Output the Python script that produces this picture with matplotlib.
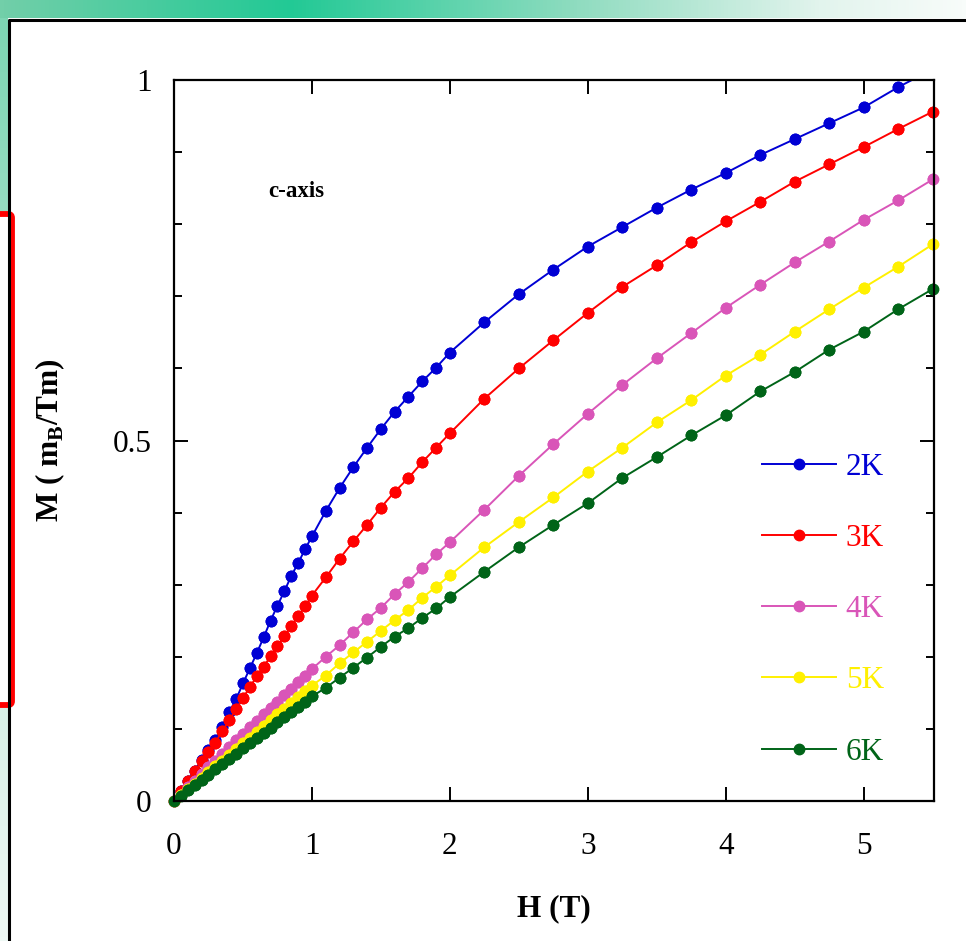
import matplotlib
matplotlib.use("Agg")
import matplotlib.pyplot as plt
import numpy as np
from matplotlib.colors import LinearSegmentedColormap
from matplotlib.patches import FancyBboxPatch


# magnetic field (T): 0.05 steps to 1 T, 0.1 steps to 2 T, 0.25 steps to 5.5 T
field = [
    0.0, 0.05, 0.1, 0.15, 0.2, 0.25, 0.3, 0.35, 0.4, 0.45, 0.5,
    0.55, 0.6, 0.65, 0.7, 0.75, 0.8, 0.85, 0.9, 0.95, 1.0,
    1.1, 1.2, 1.3, 1.4, 1.5, 1.6, 1.7, 1.8, 1.9, 2.0,
    2.25, 2.5, 2.75, 3.0, 3.25, 3.5, 3.75, 4.0, 4.25, 4.5, 4.75, 5.0, 5.25, 5.5,
]

m_2k = [
    0.0, 0.014, 0.028, 0.042, 0.057, 0.071, 0.085, 0.103, 0.123, 0.141, 0.163,
    0.184, 0.205, 0.227, 0.250, 0.271, 0.291, 0.312, 0.330, 0.349, 0.367,
    0.402, 0.434, 0.463, 0.490, 0.516, 0.540, 0.561, 0.582, 0.601, 0.622,
    0.664, 0.703, 0.737, 0.769, 0.796, 0.823, 0.848, 0.871, 0.896, 0.918, 0.940, 0.962, 0.990, 1.015,
]
m_3k = [
    0.0, 0.014, 0.028, 0.041, 0.055, 0.068, 0.081, 0.097, 0.112, 0.127, 0.143,
    0.158, 0.173, 0.186, 0.201, 0.215, 0.229, 0.243, 0.257, 0.270, 0.285,
    0.310, 0.336, 0.360, 0.383, 0.407, 0.429, 0.448, 0.470, 0.490, 0.510,
    0.558, 0.600, 0.639, 0.677, 0.713, 0.743, 0.775, 0.804, 0.831, 0.859, 0.883, 0.907, 0.932, 0.956,
]
m_4k = [
    0.0, 0.009, 0.019, 0.028, 0.038, 0.047, 0.056, 0.065, 0.075, 0.084, 0.093,
    0.102, 0.111, 0.120, 0.129, 0.138, 0.147, 0.156, 0.165, 0.174, 0.183,
    0.200, 0.216, 0.234, 0.252, 0.268, 0.287, 0.304, 0.323, 0.342, 0.359,
    0.404, 0.451, 0.495, 0.537, 0.577, 0.614, 0.649, 0.684, 0.716, 0.747, 0.776, 0.806, 0.833, 0.862,
]
m_5k = [
    0.0, 0.008, 0.016, 0.024, 0.032, 0.040, 0.048, 0.056, 0.064, 0.072, 0.080,
    0.088, 0.096, 0.104, 0.112, 0.120, 0.128, 0.136, 0.144, 0.152, 0.160,
    0.174, 0.191, 0.206, 0.221, 0.236, 0.251, 0.265, 0.282, 0.297, 0.313,
    0.352, 0.387, 0.421, 0.457, 0.490, 0.525, 0.556, 0.590, 0.619, 0.651, 0.682, 0.712, 0.741, 0.772,
]
m_6k = [
    0.0, 0.007, 0.015, 0.022, 0.029, 0.036, 0.044, 0.051, 0.058, 0.065, 0.073,
    0.080, 0.087, 0.094, 0.101, 0.109, 0.116, 0.123, 0.130, 0.138, 0.145,
    0.157, 0.171, 0.185, 0.199, 0.214, 0.228, 0.240, 0.254, 0.267, 0.283,
    0.318, 0.352, 0.383, 0.413, 0.448, 0.477, 0.507, 0.535, 0.568, 0.595, 0.626, 0.651, 0.682, 0.710,
]

labels = ["2K", "3K", "4K", "5K", "6K"]
colors = ["#0000d4", "#ff0000", "#d955b8", "#fff000", "#006418"]

plt.rcParams["font.family"] = ["Liberation Serif", "DejaVu Serif"]
plt.rcParams["mathtext.fontset"] = "custom"
plt.rcParams["mathtext.rm"] = "Liberation Serif"
plt.rcParams["mathtext.bf"] = "Liberation Serif:bold"

W, H = 966, 941
fig = plt.figure(figsize=(W / 100, H / 100), dpi=100)

# slide decoration behind the chart, in pixel coordinates
bg = fig.add_axes([0, 0, 1, 1], zorder=0)
bg.axis("off")
top_cmap = LinearSegmentedColormap.from_list(
    "top", [(0, "#72cfa9"), (0.3, "#22c995"), (0.6, "#90dcc0"), (0.85, "#e2f4ed"), (1, "#f8fcfa")]
)
side_cmap = LinearSegmentedColormap.from_list(
    "side", [(0, "#7dd5b3"), (0.75, "#d8f0e6"), (1, "#eef8f4")]
)
bg.imshow(np.linspace(0, 1, 256)[None, :], cmap=top_cmap, extent=(0, W, 18, 0), aspect="auto")
bg.imshow(np.linspace(0, 1, 256)[:, None], cmap=side_cmap, extent=(0, 8, H, 18), aspect="auto")
bg.plot([9, 9, W], [H, 20, 20], color="black", lw=2.2, solid_capstyle="butt")
bg.add_patch(FancyBboxPatch((-20, 214), 32, 491, boxstyle="round,pad=0,rounding_size=4",
                            facecolor="white", edgecolor="#ff0000", lw=4.2))
bg.set_xlim(0, W)
bg.set_ylim(H, 0)

ax = fig.add_axes([174 / W, 140 / H, 760 / W, 721 / H], zorder=1)
series = [m_2k, m_3k, m_4k, m_5k, m_6k]
handles = []
for values, color in zip(series, colors):
    line, = ax.plot(field, values, color=color, lw=1.4, marker="o", ms=7.5, mec=color, mfc=color)
    handles.append(line)
    inside = [(h, m) for h, m in zip(field, values) if m <= 1.0]
    ax.plot([p[0] for p in inside], [p[1] for p in inside], ls="none", marker="o", ms=7.5,
            color=color, clip_on=False)

ax.set_xlim(0, 5.51)
ax.set_ylim(0, 1)
ax.set_xticks([0, 1, 2, 3, 4, 5])
ax.set_yticks([0, 0.5, 1])
ax.set_yticklabels(["0", "0.5", "1"])
ax.set_yticks(np.arange(0, 1.01, 0.1), minor=True)
ax.tick_params(which="major", direction="in", length=10, width=1.4, top=True, right=True,
               labelsize=22.5)
ax.tick_params(which="minor", direction="in", length=5.5, width=1.4, top=True, right=True)
ax.tick_params(axis="x", pad=22)
ax.tick_params(axis="y", pad=16)
for s in ax.spines.values():
    s.set_linewidth(1.6)

ax.set_xlabel("H (T)", fontsize=22.5, fontweight="bold", labelpad=24)
ax.set_ylabel(r"M ( m$_\mathbf{B}$/Tm)", fontsize=22.5, fontweight="bold", labelpad=33)
ax.text(0.124, 0.845, "c-axis", transform=ax.transAxes, fontsize=16.5, fontweight="bold",
        va="center", ha="left")

ax.legend(handles, labels, loc="upper left", bbox_to_anchor=(0.774, 0.483), frameon=False,
          labelcolor="linecolor", fontsize=22.5, handlelength=2.35, handletextpad=0.32,
          labelspacing=1.35, numpoints=1, borderpad=0, borderaxespad=0)

fig.savefig("out.png", dpi=100)
